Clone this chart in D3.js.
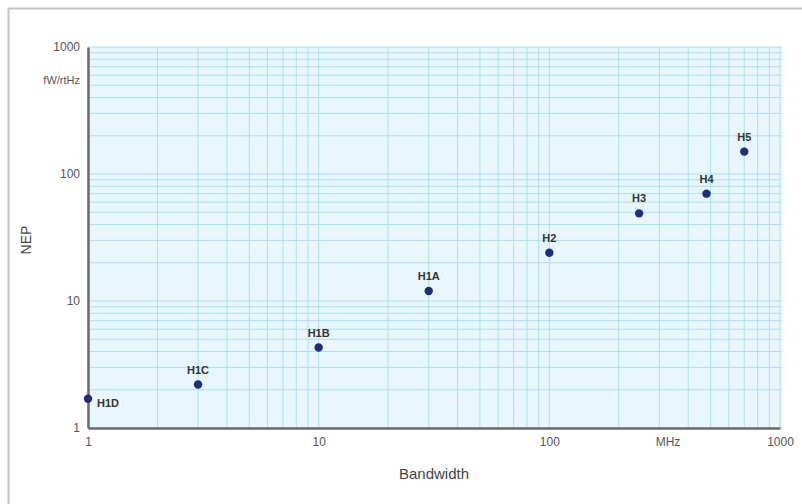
<!DOCTYPE html>
<html><head><meta charset="utf-8">
<script src="https://cdn.jsdelivr.net/npm/d3@7"></script>
<style>body{margin:0;background:#fff;}svg{display:block;font-family:"Liberation Sans Narrow","Liberation Sans",Arial,sans-serif;}</style>
</head><body>
<script>
const names = ["H1D","H1C","H1B","H1A","H2","H3","H4","H5"];
const bandwidth = [1,3,10,30,100,245,480,700];
const nep = [1.7,2.2,4.3,12,24,49,70,150];
const xTickLabels = ["1","10","100","1000"];
const yTickLabels = ["1","10","100","1000"];

const W=802,H=504;
const m={l:88,r:22,t:47,b:76};
const svg=d3.select("body").append("svg").attr("width",W).attr("height",H);
svg.append("rect").attr("x",8.5).attr("y",8.5).attr("width",W).attr("height",H).attr("fill","none").attr("stroke","#c4c4c4").attr("stroke-width",2);

const x=d3.scaleLog().domain([1,1000]).range([m.l,W-m.r]);
const y=d3.scaleLog().domain([1,1000]).range([H-m.b,m.t]);

svg.append("rect").attr("x",x(1)).attr("y",y(1000)).attr("width",x(1000)-x(1)+2).attr("height",y(1)-y(1000)).attr("fill","#e8f6fd");

const minor=[];
[1,10,100].forEach(d=>{for(let k=1;k<10;k++)minor.push(d*k);});
minor.push(1000);
const g=svg.append("g");
g.selectAll("line.v").data(minor).join("line").attr("x1",d=>x(d)).attr("x2",d=>x(d)).attr("y1",y(1)).attr("y2",y(1000)).attr("stroke","#ace0f0").attr("stroke-width",1);
g.selectAll("line.h").data(minor).join("line").attr("y1",d=>y(d)).attr("y2",d=>y(d)).attr("x1",x(1)).attr("x2",x(1000)+2).attr("stroke","#ace0f0").attr("stroke-width",1);

// axes
const xa=svg.append("g").attr("transform",`translate(0,${y(1)})`).call(d3.axisBottom(x).tickValues([1,10,100,1000]).tickFormat((d,i)=>xTickLabels[i]).tickSize(0).tickPadding(9));
xa.select(".domain").attr("stroke","#6b6b6b").attr("stroke-width",2.5);
xa.selectAll("text").attr("fill","#555").style("font-size","12px");
const ya=svg.append("g").attr("transform",`translate(${x(1)},0)`).call(d3.axisLeft(y).tickValues([1,10,100,1000]).tickFormat((d,i)=>yTickLabels[i]).tickSize(0).tickPadding(8));
ya.select(".domain").attr("stroke","#6b6b6b").attr("stroke-width",2.5);
ya.selectAll("text").attr("fill","#555").style("font-size","12px");

svg.append("text").attr("x",80).attr("y",y(1000)+37).attr("text-anchor","end").attr("fill","#555").style("font-size","11px").text("fW/rtHz");
svg.append("text").attr("x",668).attr("y",y(1)+18).attr("text-anchor","middle").attr("fill","#555").style("font-size","12px").text("MHz");
svg.append("text").attr("x",434).attr("y",479).attr("text-anchor","middle").attr("fill","#444").style("font-size","15px").text("Bandwidth");
svg.append("text").attr("transform",`translate(31,240) rotate(-90)`).attr("text-anchor","middle").attr("fill","#444").style("font-size","14px").text("NEP");

const pts=names.map((n,i)=>({n,bw:bandwidth[i],v:nep[i]}));
svg.selectAll("circle.p").data(pts).join("circle").attr("cx",d=>x(d.bw)).attr("cy",d=>y(d.v)).attr("r",4.2).attr("fill","#1f2d80");
svg.selectAll("text.lbl").data(pts).join("text")
 .attr("x",d=>d.n==="H1D"?x(d.bw)+9:x(d.bw))
 .attr("y",d=>d.n==="H1D"?y(d.v)+8:y(d.v)-11)
 .attr("text-anchor",d=>d.n==="H1D"?"start":"middle")
 .attr("fill","#333").style("font-size","11px").style("font-weight","bold").text(d=>d.n);
</script>
</body></html>
